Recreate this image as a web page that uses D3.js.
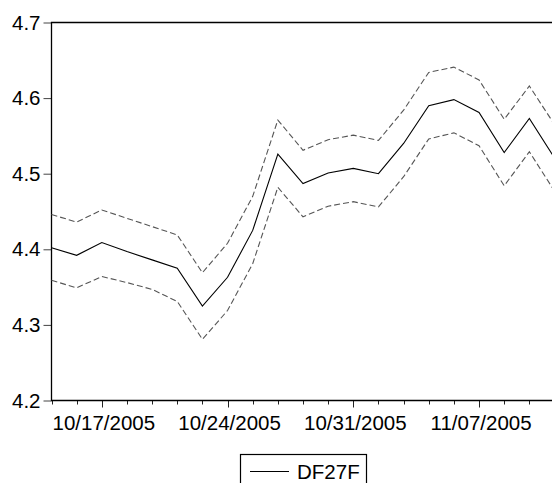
<!DOCTYPE html>
<html>
<head>
    <meta charset="UTF-8">
    <title>DF27F forecast</title>
    <script src="https://d3js.org/d3.v7.min.js"></script>
    <style>
        body { margin: 0; background: #fff; }
        svg { display: block; }
        .axis text { font-family: "Liberation Sans", Arial, sans-serif; font-size: 20.5px; fill: #000; }
        .line { fill: none; }
    </style>
</head>
<body>
    <svg width="552" height="483"></svg>
    <script>
        // trading days shown on the x axis
        var dates = ['10/13/2005', '10/14/2005',
                     '10/17/2005', '10/18/2005', '10/19/2005', '10/20/2005', '10/21/2005',
                     '10/24/2005', '10/25/2005', '10/26/2005', '10/27/2005', '10/28/2005',
                     '10/31/2005', '11/01/2005', '11/02/2005', '11/03/2005', '11/04/2005',
                     '11/07/2005', '11/08/2005', '11/09/2005', '11/10/2005'];
        var tickLabels = ['10/17/2005', '10/24/2005', '10/31/2005', '11/07/2005'];
        var yTicks = [4.2, 4.3, 4.4, 4.5, 4.6, 4.7];

        // forecast and the +/- 2 s.e. band
        var forecast = [4.402, 4.392, 4.409, 4.397, 4.386, 4.375, 4.325, 4.363, 4.425, 4.526, 4.487,
                        4.501, 4.507, 4.500, 4.540, 4.590, 4.598, 4.581, 4.528, 4.573, 4.521];
        var upper = [4.446, 4.436, 4.452, 4.441, 4.430, 4.419, 4.369, 4.408, 4.470, 4.571, 4.531,
                     4.545, 4.551, 4.544, 4.584, 4.634, 4.641, 4.624, 4.572, 4.616, 4.565];
        var lower = [4.359, 4.349, 4.364, 4.356, 4.347, 4.331, 4.281, 4.319, 4.381, 4.482, 4.443,
                     4.457, 4.463, 4.456, 4.496, 4.546, 4.554, 4.537, 4.484, 4.529, 4.477];

        var svg = d3.select('svg'),
            margin = { left: 51, top: 22.5, bottom: 400.5, right: 560 };

        var x_scale = d3.scaleLinear().domain([0, dates.length - 1]).range([margin.left + 0.5, 554.5]),
            y_scale = d3.scaleLinear().domain([4.2, 4.7]).range([margin.bottom, margin.top]);

        // y axis
        var yAxis = svg.append('g')
            .attr('class', 'axis')
            .attr('transform', 'translate(' + (margin.left + 0.5) + ',0)')
            .call(d3.axisLeft(y_scale).tickValues(yTicks).tickFormat(d3.format('.1f')).tickSize(8).tickPadding(3));
        yAxis.select('.domain').remove();
        yAxis.selectAll('line').attr('stroke', '#444');

        // x axis: minor ticks every day, longer ones with labels on Mondays
        var xAxis = svg.append('g')
            .attr('class', 'axis')
            .attr('transform', 'translate(0,' + margin.bottom + ')');
        xAxis.selectAll('line.tick')
            .data(dates)
            .enter().append('line')
            .attr('x1', (d, i) => Math.round(x_scale(i)) + 0.5)
            .attr('x2', (d, i) => Math.round(x_scale(i)) + 0.5)
            .attr('y1', 0)
            .attr('y2', d => tickLabels.indexOf(d) >= 0 ? 7 : 4)
            .attr('stroke', '#222');
        xAxis.selectAll('text')
            .data(tickLabels)
            .enter().append('text')
            .attr('x', d => x_scale(dates.indexOf(d)) + 2)
            .attr('y', 29)
            .attr('text-anchor', 'middle')
            .text(d => d);

        // frame: left, top, bottom
        svg.append('path')
            .attr('d', 'M' + margin.right + ',' + margin.top + 'H' + (margin.left + 0.5) + 'V' + margin.bottom + 'H' + margin.right)
            .attr('fill', 'none')
            .attr('stroke', '#000')
            .attr('stroke-width', 1.3);

        var line = d3.line()
            .x((d, i) => x_scale(i))
            .y(d => y_scale(d));

        [upper, lower].forEach(s => {
            svg.append('path').attr('class', 'line')
                .attr('d', line(s))
                .attr('stroke', '#555')
                .attr('stroke-width', 1.1)
                .attr('stroke-dasharray', '6,3');
        });
        svg.append('path').attr('class', 'line')
            .attr('d', line(forecast))
            .attr('stroke', '#000')
            .attr('stroke-width', 1.1);

        // legend
        var legend = svg.append('g').attr('class', 'axis');
        legend.append('rect')
            .attr('x', 240.5).attr('y', 454.5)
            .attr('width', 126).attr('height', 40)
            .attr('fill', '#fff').attr('stroke', '#000').attr('stroke-width', 1.2);
        legend.append('line')
            .attr('x1', 250).attr('x2', 289)
            .attr('y1', 471.5).attr('y2', 471.5)
            .attr('stroke', '#000');
        legend.append('text')
            .attr('x', 297).attr('y', 478.5)
            .text('DF27F');
    </script>
</body>
</html>
